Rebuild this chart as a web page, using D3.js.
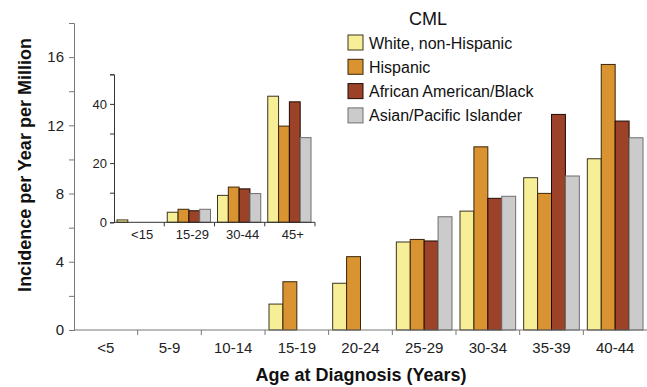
<!DOCTYPE html>
<html>
<head>
<meta charset="utf-8">
<script src="https://cdn.jsdelivr.net/npm/d3@7"></script>
<style>
  body { margin: 0; background: #fff; }
  svg { font-family: "Liberation Sans", Arial, sans-serif; }
</style>
</head>
<body>
<div id="chart"></div>
<script>
// Data
var series = ["White, non-Hispanic", "Hispanic", "African American/Black", "Asian/Pacific Islander"];
var colors = ["#f7ef98", "#d99331", "#9b4229", "#cbcbcb"];
var strokes = ["#3a3420", "#3a2608", "#1e0a04", "#6e6e6e"];

var ageGroups = ["<5", "5-9", "10-14", "15-19", "20-24", "25-29", "30-34", "35-39", "40-44"];
var whiteVals    = [null, null, null, 1.52, 2.74, 5.16, 6.97, 8.93, 10.04];
var hispanicVals = [null, null, null, 2.83, 4.30, 5.31, 10.74, 8.01, 15.57];
var blackVals    = [null, null, null, null, null, 5.22, 7.72, 12.64, 12.25];
var asianVals    = [null, null, null, null, null, 6.64, 7.84, 9.03, 11.27];
var yTicks = [0, 2, 4, 6, 8, 10, 12, 14, 16, 18];

var insetGroups = ["<15", "15-29", "30-44", "45+"];
var insetWhite    = [0.8, 3.4, 9.1, 42.6];
var insetHispanic = [null, 4.4, 11.9, 32.5];
var insetBlack    = [null, 3.9, 11.3, 40.7];
var insetAsian    = [null, 4.4, 9.7, 28.6];
var insetTicks = [0, 10, 20, 30, 40, 50];

var W = 647, H = 387;
var svg = d3.select("#chart").append("svg").attr("width", W).attr("height", H);

function buildRows(groups, lists) {
    var rows = [];
    groups.forEach(function (g, i) {
        lists.forEach(function (list, s) {
            if (list[i] != null) rows.push({ group: g, s: s, value: list[i] });
        });
    });
    return rows;
}

// Main chart
var x0 = d3.scaleBand().domain(ageGroups).range([74, 647]);
var x1 = d3.scaleBand().domain(d3.range(4)).range([4, x0.bandwidth() - 4]);
var y = d3.scaleLinear().domain([0, 18]).range([330, 23]);

var mainRows = buildRows(ageGroups, [whiteVals, hispanicVals, blackVals, asianVals]);

svg.append("g").selectAll("rect")
    .data(mainRows)
    .enter()
    .append("rect")
    .attr("x", d => x0(d.group) + x1(d.s))
    .attr("y", d => y(d.value))
    .attr("width", x1.bandwidth())
    .attr("height", d => y(0) - y(d.value))
    .attr("fill", d => colors[d.s])
    .attr("stroke", d => strokes[d.s])
    .attr("stroke-width", 1);

// y axis
var yAxis = svg.append("g")
    .attr("transform", "translate(74,0)")
    .call(d3.axisLeft(y).tickValues(yTicks).tickSize(5).tickFormat(d => d % 4 == 0 ? d : ""));
yAxis.selectAll("text").style("font-size", "15px").attr("fill", "#222").attr("dx", "-2");

// x axis
var xAxisG = svg.append("g").attr("transform", "translate(0,330)");
xAxisG.append("line").attr("x1", 74).attr("x2", 647).attr("y1", 0).attr("y2", 0);
xAxisG.selectAll("line.tick")
    .data(ageGroups.slice(1))
    .enter()
    .append("line")
    .attr("class", "tick")
    .attr("x1", d => x0(d)).attr("x2", d => x0(d))
    .attr("y1", 0).attr("y2", 5);
xAxisG.selectAll("text")
    .data(ageGroups)
    .enter()
    .append("text")
    .attr("x", d => x0(d) + x0.bandwidth() / 2)
    .attr("y", 23)
    .attr("text-anchor", "middle")
    .style("font-size", "15px")
    .attr("fill", "#222")
    .text(d => d);

svg.selectAll("g path.domain, g .tick line").attr("stroke", "#777");
xAxisG.selectAll("line").attr("stroke", "#777");

// axis titles
svg.append("text")
    .attr("transform", "translate(31,165) rotate(-90)")
    .attr("text-anchor", "middle")
    .style("font-size", "18px")
    .style("font-weight", "bold")
    .attr("fill", "#111")
    .text("Incidence per Year per Million");

svg.append("text")
    .attr("x", 361)
    .attr("y", 381)
    .attr("text-anchor", "middle")
    .style("font-size", "18px")
    .style("font-weight", "bold")
    .attr("fill", "#111")
    .text("Age at Diagnosis (Years)");

// Legend
svg.append("text")
    .attr("x", 428)
    .attr("y", 25)
    .attr("text-anchor", "middle")
    .style("font-size", "18px")
    .attr("fill", "#111")
    .text("CML");

var legend = svg.append("g").selectAll("g")
    .data(series)
    .enter()
    .append("g")
    .attr("transform", (d, i) => `translate(348,${35 + i * 24.3})`);
legend.append("rect")
    .attr("width", 15)
    .attr("height", 15)
    .attr("fill", (d, i) => colors[i])
    .attr("stroke", (d, i) => strokes[i]);
legend.append("text")
    .attr("x", 21)
    .attr("y", 13.5)
    .style("font-size", "16px")
    .attr("fill", "#111")
    .text(d => d);

// Inset chart
var ix0 = d3.scaleBand().domain(insetGroups).range([114, 315]);
var ix1 = d3.scaleBand().domain(d3.range(4)).range([3, ix0.bandwidth() - 4]);
var iy = d3.scaleLinear().domain([0, 50]).range([222.3, 74.3]);

var insetRows = buildRows(insetGroups, [insetWhite, insetHispanic, insetBlack, insetAsian]);

svg.append("g").selectAll("rect")
    .data(insetRows)
    .enter()
    .append("rect")
    .attr("x", d => ix0(d.group) + ix1(d.s))
    .attr("y", d => iy(d.value))
    .attr("width", ix1.bandwidth())
    .attr("height", d => iy(0) - iy(d.value))
    .attr("fill", d => colors[d.s])
    .attr("stroke", d => strokes[d.s])
    .attr("stroke-width", 1);

var iyAxis = svg.append("g")
    .attr("transform", "translate(114,0)")
    .call(d3.axisLeft(iy).tickValues(insetTicks).tickSize(4).tickFormat(d => d % 20 == 0 ? d : ""));
iyAxis.selectAll("text").style("font-size", "13px").attr("fill", "#222");
iyAxis.selectAll("path, line").attr("stroke", "#333");

var ixAxis = svg.append("g").attr("transform", "translate(0,222.3)");
ixAxis.append("line").attr("x1", 114).attr("x2", 315).attr("y1", 0).attr("y2", 0).attr("stroke", "#333");
ixAxis.selectAll("line.tick")
    .data(insetGroups.slice(1).concat(["end"]))
    .enter()
    .append("line")
    .attr("class", "tick")
    .attr("x1", d => d == "end" ? 315 : ix0(d)).attr("x2", d => d == "end" ? 315 : ix0(d))
    .attr("y1", 0).attr("y2", 4)
    .attr("stroke", "#333");
ixAxis.selectAll("text")
    .data(insetGroups)
    .enter()
    .append("text")
    .attr("x", d => ix0(d) + ix0.bandwidth() / 2 + 3)
    .attr("y", 16.5)
    .attr("text-anchor", "middle")
    .style("font-size", "13px")
    .attr("fill", "#222")
    .text(d => d);
</script>
</body>
</html>
